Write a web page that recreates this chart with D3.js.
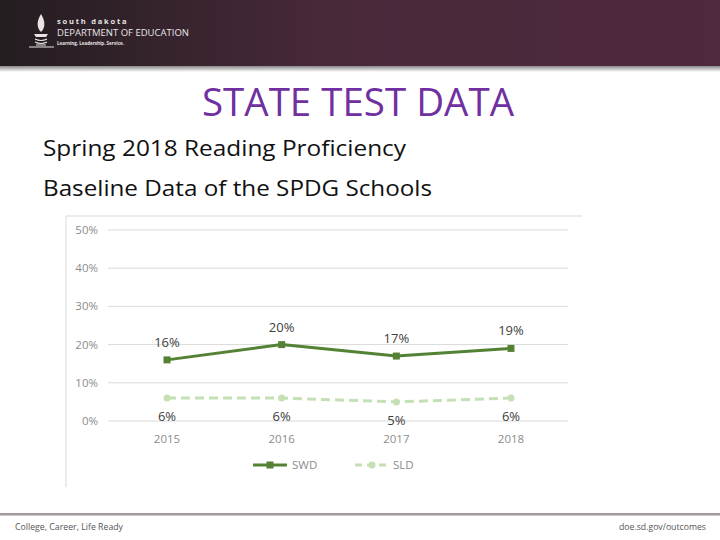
<!DOCTYPE html>
<meta charset="utf-8">
<head>
    <script type="text/javascript" src="https://cdn.jsdelivr.net/npm/d3@7"></script>
    <style>
        body { margin: 0; background: #fff; }
        svg { display: block; font-family: "Open Sans", "DejaVu Sans", sans-serif; }
    </style>
</head>
<body>
<div id="chart"></div>
<script>
    // chart data
    let years = ['2015', '2016', '2017', '2018']
    let swd = [16, 20, 17, 19]
    let sld = [6, 6, 5, 6]
    let yTicks = [0, 10, 20, 30, 40, 50]

    let width = 720
    let height = 540

    let svg = d3.select("#chart")
        .append("svg")
        .attr("width", width)
        .attr("height", height)

    // header bar
    let defs = svg.append("defs")
    let grad = defs.append("linearGradient").attr("id", "hdr")
    grad.append("stop").attr("offset", "0%").attr("stop-color", "#231d20")
    grad.append("stop").attr("offset", "45%").attr("stop-color", "#48293a")
    grad.append("stop").attr("offset", "100%").attr("stop-color", "#4f2a3e")
    let shadow = defs.append("linearGradient").attr("id", "shd").attr("x1", 0).attr("x2", 0).attr("y1", 0).attr("y2", 1)
    shadow.append("stop").attr("offset", "0%").attr("stop-color", "#888")
    shadow.append("stop").attr("offset", "100%").attr("stop-color", "#fff")

    svg.append("rect").attr("x", 0).attr("y", 0).attr("width", width).attr("height", 66).attr("fill", "url(#hdr)")
    svg.append("rect").attr("x", 0).attr("y", 66).attr("width", width).attr("height", 6).attr("fill", "url(#shd)")

    // logo
    let logo = svg.append("g").attr("fill", "#e8e4e6")
    logo.append("path").attr("d", "M41,14 C36,22 37,28 41,32 C45,28 46,22 41,14 Z")
    logo.append("path").attr("d", "M34,34 L48,34 L46,37 L36,37 Z")
    logo.append("path").attr("d", "M35,39 Q41,42 47,39 M35,42 Q41,45 47,42 M36,45 L46,45")
        .attr("fill", "none").attr("stroke", "#e8e4e6").attr("stroke-width", 1.2)
    logo.append("path").attr("d", "M29,47 L54,47").attr("stroke", "#e8e4e6").attr("stroke-width", 1)
    logo.append("text").attr("x", 57).attr("y", 24).attr("font-size", 7.5).attr("font-weight", "bold")
        .attr("letter-spacing", 1.8).text("south dakota")
    logo.append("text").attr("x", 57).attr("y", 36).attr("font-size", 9.5)
        .text("DEPARTMENT OF EDUCATION")
    logo.append("text").attr("x", 57).attr("y", 44.5).attr("font-size", 4.5).attr("font-weight", "bold")
        .text("Learning. Leadership. Service.")

    // slide title and text
    svg.append("text").attr("x", 202).attr("y", 116)
        .attr("font-size", 38).attr("fill", "#7030a0")
        .attr("textLength", 312).attr("lengthAdjust", "spacingAndGlyphs")
        .text("STATE TEST DATA")
    svg.append("text").attr("x", 43).attr("y", 156).attr("font-size", 22.5).attr("fill", "#111")
        .attr("textLength", 363).attr("lengthAdjust", "spacingAndGlyphs")
        .text("Spring 2018 Reading Proficiency")
    svg.append("text").attr("x", 43).attr("y", 196).attr("font-size", 22.5).attr("fill", "#111")
        .attr("textLength", 389).attr("lengthAdjust", "spacingAndGlyphs")
        .text("Baseline Data of the SPDG Schools")

    // chart frame
    svg.append("path").attr("d", "M66,487 L66,216 L582,216").attr("fill", "none").attr("stroke", "#d9d9d9")

    let x = d3.scalePoint().domain(years).range([167, 511])
    let y = d3.scaleLinear().domain([0, 50]).range([421, 230])

    let grid = svg.append("g")
    yTicks.forEach(function (t) {
        grid.append("line").attr("x1", 108).attr("x2", 568)
            .attr("y1", y(t)).attr("y2", y(t)).attr("stroke", "#d9d9d9")
        grid.append("text").attr("x", 98).attr("y", y(t) + 4).attr("text-anchor", "end")
            .attr("font-size", 11.5).attr("fill", "#8c8c8c").text(t + "%")
    })

    years.forEach(function (yr) {
        svg.append("text").attr("x", x(yr)).attr("y", 443).attr("text-anchor", "middle")
            .attr("font-size", 11.5).attr("fill", "#8c8c8c").text(yr)
    })

    let line = d3.line().x(function (d, i) { return x(years[i]) }).y(function (d) { return y(d) })

    // SLD series
    svg.append("path").datum(sld).attr("d", line).attr("fill", "none")
        .attr("stroke", "#c5e0b4").attr("stroke-width", 3).attr("stroke-dasharray", "9,5")
    sld.forEach(function (v, i) {
        svg.append("circle").attr("cx", x(years[i])).attr("cy", y(v)).attr("r", 3.5).attr("fill", "#c5e0b4")
        svg.append("text").attr("x", x(years[i])).attr("y", y(v) + 23).attr("text-anchor", "middle")
            .attr("font-size", 13).attr("fill", "#404040").text(v + "%")
    })

    // SWD series
    svg.append("path").datum(swd).attr("d", line).attr("fill", "none")
        .attr("stroke", "#548235").attr("stroke-width", 3).attr("stroke-linejoin", "round")
    swd.forEach(function (v, i) {
        svg.append("rect").attr("x", x(years[i]) - 3.5).attr("y", y(v) - 3.5)
            .attr("width", 7).attr("height", 7).attr("fill", "#548235")
        svg.append("text").attr("x", x(years[i])).attr("y", y(v) - 13).attr("text-anchor", "middle")
            .attr("font-size", 13).attr("fill", "#404040").text(v + "%")
    })

    // legend
    svg.append("line").attr("x1", 253).attr("x2", 287).attr("y1", 465).attr("y2", 465)
        .attr("stroke", "#548235").attr("stroke-width", 3)
    svg.append("rect").attr("x", 266.5).attr("y", 461.5).attr("width", 7).attr("height", 7).attr("fill", "#548235")
    svg.append("text").attr("x", 292).attr("y", 469).attr("font-size", 11.5).attr("fill", "#8c8c8c").text("SWD")

    svg.append("line").attr("x1", 355).attr("x2", 389).attr("y1", 465).attr("y2", 465)
        .attr("stroke", "#c5e0b4").attr("stroke-width", 3).attr("stroke-dasharray", "7,5")
    svg.append("circle").attr("cx", 372).attr("cy", 465).attr("r", 3.5).attr("fill", "#c5e0b4")
    svg.append("text").attr("x", 393).attr("y", 469).attr("font-size", 11.5).attr("fill", "#8c8c8c").text("SLD")

    // footer
    svg.append("rect").attr("x", 0).attr("y", 513).attr("width", width).attr("height", 2.5).attr("fill", "#a09a9d")
    svg.append("text").attr("x", 15).attr("y", 530).attr("font-size", 8.5).attr("fill", "#555")
        .attr("textLength", 108).attr("lengthAdjust", "spacingAndGlyphs")
        .text("College, Career, Life Ready")
    svg.append("text").attr("x", 619).attr("y", 530).attr("font-size", 8.5).attr("fill", "#555")
        .attr("textLength", 87).attr("lengthAdjust", "spacingAndGlyphs")
        .text("doe.sd.gov/outcomes")
</script>
</body>
